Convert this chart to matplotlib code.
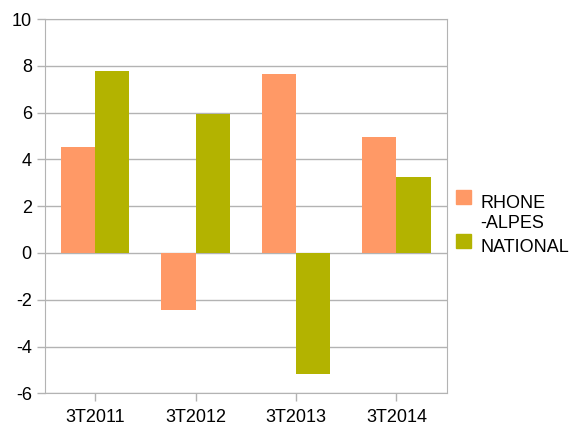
import numpy as np
import matplotlib.pyplot as plt
from matplotlib.patches import Rectangle

plt.rcParams['font.family'] = ['Liberation Sans', 'DejaVu Sans']
plt.rcParams['axes.unicode_minus'] = False

categories = ['3T2011', '3T2012', '3T2013', '3T2014']
rhone_alpes = [4.55, -2.43, 7.67, 4.94]
national = [7.80, 5.92, -5.16, 3.23]
series_labels = ['RHONE\n-ALPES', 'NATIONAL']
series_colors = ['#ff9966', '#b3b300']

W, H = 574, 425
fig = plt.figure(figsize=(W / 100, H / 100), dpi=100)
ax = fig.add_axes([0.0784, 0.0746, 0.6998, 0.8806])

x = np.arange(len(categories))
w = 0.34
ax.bar(x - w / 2, rhone_alpes, w, color=series_colors[0], zorder=3)
ax.bar(x + w / 2, national, w, color=series_colors[1], zorder=3)

ax.set_xlim(-0.5, len(categories) - 0.5)
ax.set_ylim(-6, 10)
ax.set_yticks(range(-6, 11, 2))
ax.set_xticks(x)
ax.set_xticklabels(categories)
ax.yaxis.grid(True, color='#b3b3b3', linewidth=1, zorder=0)
for s in ax.spines.values():
    s.set_color('#b3b3b3')
ax.tick_params(colors='#b3b3b3', labelcolor='black', labelsize=13, length=6, width=1)
ax.tick_params(axis='x', pad=5)

# legend drawn by hand so the swatch sits at the first line of a wrapped label
legend_baselines = [208, 252]  # pixel rows (from top) of each label's first baseline
for lab, col, yb in zip(series_labels, series_colors, legend_baselines):
    fig.add_artist(Rectangle((456 / W, 1 - (yb - 4) / H), 15 / W, 14 / H,
                             transform=fig.transFigure, color=col))
    for i, line in enumerate(lab.split('\n')):
        fig.text(480 / W, 1 - (yb + 20 * i) / H, line, va='baseline', ha='left',
                 fontsize=13)

fig.savefig('out.png', dpi=100)
